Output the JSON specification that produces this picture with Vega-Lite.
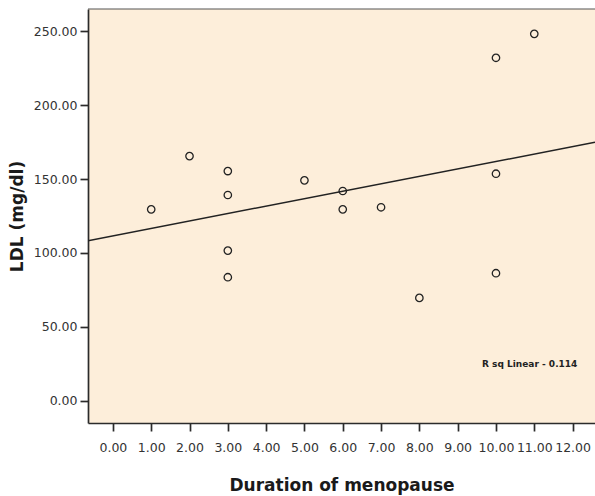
{
  "$schema": "https://vega.github.io/schema/vega-lite/v6.json",
  "autosize": "none",
  "width": 507,
  "height": 414,
  "padding": {"left": 88, "top": 9, "right": 0, "bottom": 73},
  "background": "white",
  "config": {
    "view": {"fill": "#FDEEDA", "stroke": null},
    "axis": {
      "grid": false,
      "domainColor": "#2b2b2b",
      "domainWidth": 1.7,
      "tickColor": "#2b2b2b",
      "tickWidth": 1.7,
      "tickSize": 8,
      "labelFont": "DejaVu Sans",
      "labelFontSize": 12.5,
      "labelColor": "#333333",
      "titleFont": "DejaVu Sans",
      "titleFontWeight": "bold",
      "titleFontSize": 17,
      "titleColor": "#1a1a1a"
    }
  },
  "datasets": {
    "pts": [
      {"duration": 1, "ldl": 129.5},
      {"duration": 2, "ldl": 165.5},
      {"duration": 3, "ldl": 155.4},
      {"duration": 3, "ldl": 139.2},
      {"duration": 3, "ldl": 101.6},
      {"duration": 3, "ldl": 83.6},
      {"duration": 5, "ldl": 149.1},
      {"duration": 6, "ldl": 141.9},
      {"duration": 6, "ldl": 129.5},
      {"duration": 7, "ldl": 130.9},
      {"duration": 8, "ldl": 69.6},
      {"duration": 10, "ldl": 232.0},
      {"duration": 10, "ldl": 153.6},
      {"duration": 10, "ldl": 86.3},
      {"duration": 11, "ldl": 248.2}
    ],
    "note": [
      {"duration": 10.88, "ldl": 25, "label": "R sq Linear - 0.114"}
    ]
  },
  "layer": [
    {
      "data": {"name": "pts"},
      "mark": {"type": "point", "shape": "circle", "filled": false, "stroke": "#222222", "strokeWidth": 1.3, "size": 55, "opacity": 1},
      "encoding": {
        "x": {
          "field": "duration", "type": "quantitative",
          "scale": {"domain": [-0.65, 12.585], "nice": false, "zero": false},
          "axis": {"values": [0,1,2,3,4,5,6,7,8,9,10,11,12], "format": ".2f", "labelPadding": 10, "title": "Duration of menopause", "titlePadding": 24}
        },
        "y": {
          "field": "ldl", "type": "quantitative",
          "scale": {"domain": [-15, 265], "nice": false, "zero": false},
          "axis": {"values": [0,50,100,150,200,250], "format": ".2f", "labelPadding": 3, "title": "LDL (mg/dl)", "titlePadding": 7}
        }
      }
    },
    {
      "data": {"name": "pts"},
      "transform": [{"regression": "ldl", "on": "duration", "extent": [-0.65, 12.585]}],
      "mark": {"type": "line", "color": "#222222", "strokeWidth": 1.5, "clip": true},
      "encoding": {
        "x": {"field": "duration", "type": "quantitative"},
        "y": {"field": "ldl", "type": "quantitative"}
      }
    },
    {
      "data": {"name": "note"},
      "mark": {"type": "text", "font": "DejaVu Sans", "fontWeight": "bold", "fontSize": 9, "color": "#222222", "align": "center", "baseline": "middle"},
      "encoding": {
        "x": {"field": "duration", "type": "quantitative"},
        "y": {"field": "ldl", "type": "quantitative"},
        "text": {"field": "label"}
      }
    },
    {
      "data": {"values": [{}]},
      "mark": {"type": "rule", "color": "#555555", "strokeWidth": 1.2},
      "encoding": {"y": {"datum": 265}}
    }
  ]
}
